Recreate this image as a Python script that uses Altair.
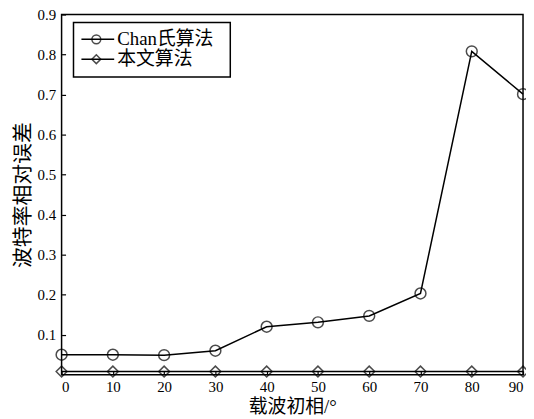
import altair as alt
import pandas as pd

phase = [0, 10, 20, 30, 40, 50, 60, 70, 80, 90]
chan = [0.050, 0.050, 0.049, 0.060, 0.120, 0.131, 0.147, 0.203, 0.808, 0.701]
ours = [0.008, 0.008, 0.008, 0.008, 0.008, 0.008, 0.008, 0.008, 0.008, 0.008]
series_names = ["Chan氏算法", "本文算法"]
y_ticks = [0.1, 0.2, 0.3, 0.4, 0.5, 0.6, 0.7, 0.8, 0.9]
x_ticks = [0, 10, 20, 30, 40, 50, 60, 70, 80, 90]

df = pd.DataFrame({
    "phase": phase * 2,
    "err": chan + ours,
    "series": [series_names[0]] * len(phase) + [series_names[1]] * len(phase),
})

FONT = "'Liberation Serif', 'Times New Roman', 'Noto Sans CJK SC', serif"
W, H = 465, 363

x = alt.X("phase:Q", scale=alt.Scale(domain=[0, 90], nice=False),
          axis=alt.Axis(values=x_ticks, title="载波初相/°", format="d",
                        offset=-4, tickSize=4, domain=False, labelPadding=5,
                        titlePadding=3, grid=False, titleFontSize=19))
y = alt.Y("err:Q", scale=alt.Scale(domain=[0, 0.9], nice=False),
          axis=alt.Axis(values=y_ticks, title="波特率相对误差", format=".1f",
                        offset=-4, tickSize=4, domain=False, labelPadding=6,
                        titlePadding=4, grid=False, titleFontSize=21))

shape_scale = alt.Scale(domain=series_names, range=["circle", "diamond"])

lines = alt.Chart(df).mark_line(color="black", strokeWidth=1.5).encode(
    x=x, y=y, detail="series:N")
points = alt.Chart(df).mark_point(color="black", filled=False, size=120, strokeWidth=1.5).encode(
    x=x, y=y, shape=alt.Shape("series:N", scale=shape_scale, legend=None))
data_layer = alt.layer(lines, points)

# legend box
leg_df = pd.DataFrame({"series": series_names, "row": [0, 1]})
leg_y = alt.Y("row:Q", scale=alt.Scale(domain=[0, 1], range=[25, 45]), axis=None)
box = alt.Chart(pd.DataFrame({"a": [0]})).mark_rect(
    fill="white", stroke="black", strokeWidth=1.5).encode(
    x=alt.value(12), x2=alt.value(170), y=alt.value(8), y2=alt.value(63))
leg_rule = alt.Chart(leg_df).mark_rule(color="black", strokeWidth=1.5).encode(
    x=alt.value(20), x2=alt.value(53), y=leg_y)
leg_pt = alt.Chart(leg_df).mark_point(color="black", filled=False, size=80, strokeWidth=1.5).encode(
    x=alt.value(35), y=leg_y,
    shape=alt.Shape("series:N", scale=shape_scale, legend=None))
leg_txt = alt.Chart(leg_df).mark_text(align="left", baseline="middle", fontSize=19, font=FONT,
                                       color="black").encode(
    x=alt.value(56), y=leg_y, text="series:N")

legend = alt.layer(box, leg_rule, leg_pt, leg_txt)

chart = alt.layer(data_layer, legend).resolve_scale(y="independent", shape="shared").properties(
    width=W, height=H,
    autosize=alt.AutoSizeParams(type="none"),
    padding={"left": 54, "top": 5, "right": 3, "bottom": 40},
).configure_view(stroke="black", strokeWidth=1.5).configure_axis(
    labelFont=FONT, titleFont=FONT, labelFontSize=15,
    labelColor="black", titleColor="black", tickColor="black", tickWidth=1.2,
    titleFontWeight="normal",
)

chart.save("out.html", embed_options={"renderer": "svg", "actions": False})
